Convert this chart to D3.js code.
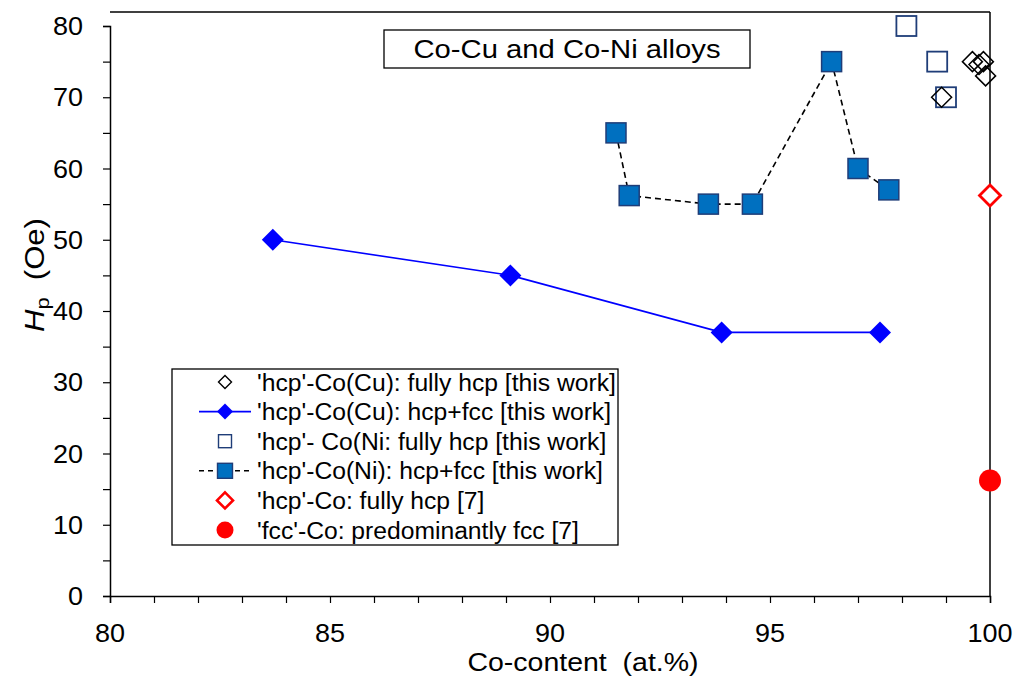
<!DOCTYPE html>
<html>
<head>
<meta charset="utf-8">
<script src="https://cdn.jsdelivr.net/npm/d3@7"></script>
<style>
  body { margin: 0; background: #fff; }
  svg { display: block; font-family: "Liberation Sans", Arial, sans-serif; }
</style>
</head>
<body>
<svg id="chart" width="1020" height="677"></svg>
<script>
// Co content (at.%) and peak field Hp (Oe) for each sample group
const cuHcpX = [98.9, 99.6, 99.75, 99.85, 99.9];
const cuHcpY = [70, 75, 74.6, 75, 73];

const cuMixX = [83.7, 89.1, 93.9, 97.5];
const cuMixY = [50, 45, 37, 37];

const niHcpX = [98.1, 98.8, 99.0];
const niHcpY = [80, 75, 70];

const niMixX = [91.5, 91.8, 93.6, 94.6, 96.4, 97.0, 97.7];
const niMixY = [65, 56.2, 55, 55, 75, 60, 57];

const refHcpX = [100];
const refHcpY = [56.2];

const refFccX = [100];
const refFccY = [16.2];

const xTicks = [80, 85, 90, 95, 100];
const yTicks = [0, 10, 20, 30, 40, 50, 60, 70, 80];

const legendLabels = [
  "'hcp'-Co(Cu): fully hcp [this work]",
  "'hcp'-Co(Cu): hcp+fcc [this work]",
  "'hcp'- Co(Ni: fully hcp [this work]",
  "'hcp'-Co(Ni): hcp+fcc [this work]",
  "'hcp'-Co: fully hcp [7]",
  "'fcc'-Co: predominantly fcc [7]"
];

const svg = d3.select("#chart");
const plotL = 110, plotR = 990, plotT = 12, plotB = 596;

const x = d3.scaleLinear().domain([80, 100]).range([plotL, plotR]);
const y = d3.scaleLinear().domain([0, 80]).range([plotB, plotB - 80 * 7.125]);

const zip = (xs, ys) => xs.map((v, i) => [v, ys[i]]);

// diamond path centred on (0,0) with half-diagonal r
const diamond = r => `M0,${-r}L${r},0L0,${r}L${-r},0Z`;

// text placed at (tx, ty) and widened about its anchor
function label(parent, tx, ty, str, size, anchor, sx) {
  return parent.append("text")
    .attr("transform", `translate(${tx},${ty}) scale(${sx},1)`)
    .attr("text-anchor", anchor).attr("font-size", size).attr("fill", "#000")
    .attr("xml:space", "preserve").text(str);
}

// frame: top edge and right edge at x = 100
svg.append("line").attr("x1", plotL).attr("x2", plotR).attr("y1", plotT).attr("y2", plotT)
  .attr("stroke", "#000").attr("stroke-width", 1.5);
svg.append("line").attr("x1", plotR).attr("x2", plotR).attr("y1", plotT).attr("y2", plotB)
  .attr("stroke", "#000").attr("stroke-width", 1.5);

// x axis with minor ticks every 1 at.%
const xAxis = svg.append("g").attr("transform", `translate(0,${plotB})`);
xAxis.call(d3.axisBottom(x).tickValues(d3.range(80, 101, 1)).tickSize(7).tickFormat(""));
xAxis.call(g => g.select(".domain").attr("stroke-width", 1.5));
xAxis.selectAll(".tick line").attr("stroke-width", 1.2);
xTicks.forEach(t => label(xAxis, x(t), 46, String(t), 25, "middle", 1.08));

// y axis with minor ticks every 5 Oe
const yAxis = svg.append("g").attr("transform", `translate(${plotL},0)`);
yAxis.call(d3.axisLeft(y).tickValues(d3.range(0, 81, 5)).tickSize(7).tickFormat(""));
yAxis.call(g => g.select(".domain").attr("stroke-width", 1.5));
yAxis.selectAll(".tick line").attr("stroke-width", 1.2);
yTicks.forEach(t => label(yAxis, -27, y(t) + 9, String(t), 25, "end", 1.08));

// axis titles
label(svg, 583, 671, "Co-content  (at.%)", 25, "middle", 1.14);

const yt = svg.append("text")
  .attr("transform", `translate(44,275) rotate(-90) scale(1.15,1)`)
  .attr("text-anchor", "middle").attr("font-size", 27).attr("fill", "#000")
  .attr("xml:space", "preserve");
yt.append("tspan").attr("font-style", "italic").text("H");
yt.append("tspan").attr("font-size", 19).attr("dy", 5).text("p");
yt.append("tspan").attr("dy", -5).text("  (Oe)");

// title box
svg.append("rect").attr("x", 384).attr("y", 30).attr("width", 366).attr("height", 38)
  .attr("fill", "#fff").attr("stroke", "#000").attr("stroke-width", 1.3);
label(svg, 567, 58, "Co-Cu and Co-Ni alloys", 25, "middle", 1.17);

// Co(Cu) hcp+fcc series: solid blue line with filled diamonds
const line = d3.line().x(d => x(d[0])).y(d => y(d[1]));
svg.append("path").datum(zip(cuMixX, cuMixY)).attr("d", line)
  .attr("fill", "none").attr("stroke", "#0000ff").attr("stroke-width", 1.6);

// Co(Ni) hcp+fcc series: dashed black line
svg.append("path").datum(zip(niMixX, niMixY)).attr("d", line)
  .attr("fill", "none").attr("stroke", "#000").attr("stroke-width", 1.6)
  .attr("stroke-dasharray", "6,4");

svg.append("g").selectAll("path").data(zip(cuMixX, cuMixY)).join("path")
  .attr("transform", d => `translate(${x(d[0])},${y(d[1])})`)
  .attr("d", diamond(11)).attr("fill", "#0000ff");

const sq = 20;
svg.append("g").selectAll("rect").data(zip(niMixX, niMixY)).join("rect")
  .attr("x", d => x(d[0]) - sq / 2).attr("y", d => y(d[1]) - sq / 2)
  .attr("width", sq).attr("height", sq)
  .attr("fill", "#0070c0").attr("stroke", "#1f3d78").attr("stroke-width", 1.5);

// Co(Ni) fully hcp: open squares
svg.append("g").selectAll("rect").data(zip(niHcpX, niHcpY)).join("rect")
  .attr("x", d => x(d[0]) - sq / 2).attr("y", d => y(d[1]) - sq / 2)
  .attr("width", sq).attr("height", sq)
  .attr("fill", "none").attr("stroke", "#1f3d78").attr("stroke-width", 1.8);

// Co(Cu) fully hcp: open black diamonds
svg.append("g").selectAll("path").data(zip(cuHcpX, cuHcpY)).join("path")
  .attr("transform", d => `translate(${x(d[0])},${y(d[1])})`)
  .attr("d", diamond(10)).attr("fill", "none").attr("stroke", "#000").attr("stroke-width", 1.5);

// reference Co: open red diamond and filled red circle
svg.append("g").selectAll("path").data(zip(refHcpX, refHcpY)).join("path")
  .attr("transform", d => `translate(${x(d[0])},${y(d[1])})`)
  .attr("d", diamond(10.5)).attr("fill", "#fff").attr("stroke", "#ff0000").attr("stroke-width", 2.8);
svg.append("g").selectAll("circle").data(zip(refFccX, refFccY)).join("circle")
  .attr("cx", d => x(d[0])).attr("cy", d => y(d[1])).attr("r", 11)
  .attr("fill", "#ff0000");

// legend
const lg = svg.append("g");
lg.append("rect").attr("x", 172).attr("y", 369).attr("width", 446).attr("height", 176)
  .attr("fill", "#fff").attr("stroke", "#000").attr("stroke-width", 1.3);
const rowY = i => 382 + i * 29.6;
const mx = 225;
legendLabels.forEach((str, i) => label(lg, 257, rowY(i) + 8.5, str, 23.5, "start", 1.05));
// row 0: open black diamond
lg.append("path").attr("transform", `translate(${mx},${rowY(0)})`)
  .attr("d", diamond(6.5)).attr("fill", "none").attr("stroke", "#000").attr("stroke-width", 1.4);
// row 1: blue line + filled diamond
lg.append("line").attr("x1", 199).attr("x2", 251).attr("y1", rowY(1)).attr("y2", rowY(1))
  .attr("stroke", "#0000ff").attr("stroke-width", 1.6);
lg.append("path").attr("transform", `translate(${mx},${rowY(1)})`)
  .attr("d", diamond(8)).attr("fill", "#0000ff");
// row 2: open square
lg.append("rect").attr("x", mx - 6.5).attr("y", rowY(2) - 6.5).attr("width", 13).attr("height", 13)
  .attr("fill", "none").attr("stroke", "#1f3d78").attr("stroke-width", 1.4);
// row 3: dashed line + filled square
lg.append("line").attr("x1", 199).attr("x2", 251).attr("y1", rowY(3)).attr("y2", rowY(3))
  .attr("stroke", "#000").attr("stroke-width", 1.6).attr("stroke-dasharray", "5,4");
lg.append("rect").attr("x", mx - 7.5).attr("y", rowY(3) - 7.5).attr("width", 15).attr("height", 15)
  .attr("fill", "#0070c0").attr("stroke", "#1f3d78").attr("stroke-width", 1.4);
// row 4: open red diamond
lg.append("path").attr("transform", `translate(${mx},${rowY(4)})`)
  .attr("d", diamond(8)).attr("fill", "#fff").attr("stroke", "#ff0000").attr("stroke-width", 2.6);
// row 5: red circle
lg.append("circle").attr("cx", mx).attr("cy", rowY(5)).attr("r", 8.5).attr("fill", "#ff0000");
</script>
</body>
</html>
